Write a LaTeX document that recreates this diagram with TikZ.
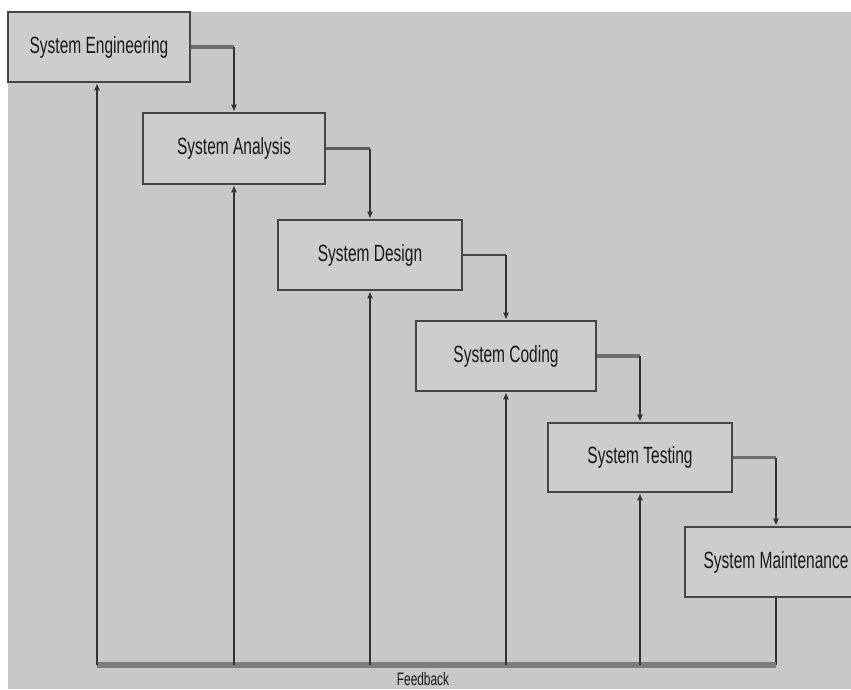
\documentclass[tikz,border=0pt]{standalone}
\usepackage{fontspec}
\setmainfont{Liberation Sans}[FakeStretch=0.66]
\usetikzlibrary{arrows.meta}
\definecolor{bggray}{HTML}{C8C8C8}
\definecolor{boxfill}{HTML}{CDCDCD}
\definecolor{boxline}{HTML}{454545}
\definecolor{hgray}{HTML}{6E6E6E}
\definecolor{vdark}{HTML}{333333}
\definecolor{fbgray}{HTML}{7D7D7D}
\tikzset{
  stagebox/.style={draw=boxline, fill=boxfill, line width=2.6pt, inner sep=0pt,
    font=\fontsize{23.5}{26}\selectfont, text=black!90},
  hconn/.style={draw=hgray, line width=3.2pt},
  vconn/.style={draw=vdark, line width=1.6pt, -{Latex[length=7pt,width=6pt]}},
  fbup/.style={draw=vdark, line width=1.5pt, -{Latex[length=7pt,width=6pt]}},
  fbline/.style={draw=fbgray, line width=6pt},
  fbdown/.style={draw=vdark, line width=1.6pt},
  fblabel/.style={font=\fontsize{18}{20}\selectfont, text=black!90, inner sep=0pt}
}
\begin{document}
\begin{tikzpicture}[x=1pt,y=-1pt]
\useasboundingbox (0,0) rectangle (851,689);
\clip (0,0) rectangle (851,689);
\fill[white] (0,0) rectangle (851,689);
\fill[bggray] (8,12) rectangle (851,689);

\node[stagebox, minimum width=182pt, minimum height=70pt] (SE) at (99,47) {System Engineering};
\node[stagebox, minimum width=182pt, minimum height=71pt] (SA) at (234,148.5) {System Analysis};
\node[stagebox, minimum width=184pt, minimum height=70pt] (SD) at (370,255) {System Design};
\node[stagebox, minimum width=180pt, minimum height=70pt] (SC) at (506,356) {System Coding};
\node[stagebox, minimum width=184pt, minimum height=69pt] (ST) at (640,457.5) {System Testing};
\node[stagebox, minimum width=182pt, minimum height=70pt] (SM) at (776,562) {System Maintenance};

% forward connectors
\coordinate (c1) at (SE.east -| SA.north);
\coordinate (c2) at (SA.east -| SD.north);
\coordinate (c3) at (SD.east -| SC.north);
\coordinate (c4) at (SC.east -| ST.north);
\coordinate (c5) at (ST.east -| SM.north);
\draw[hconn] (SE.east) -- (c1);
\draw[vconn] (c1) -- (SA.north);
\draw[hconn, line width=2.2pt, draw=vdark!80] (SA.east) -- (c2);
\draw[vconn] (c2) -- (SD.north);
\draw[hconn, line width=2.8pt, draw=vdark!90] (SD.east) -- (c3);
\draw[vconn] (c3) -- (SC.north);
\draw[hconn] (SC.east) -- (c4);
\draw[vconn] (c4) -- (ST.north);
\draw[hconn, line width=2.4pt] (ST.east) -- (c5);
\draw[vconn] (c5) -- (SM.north);

% feedback
\coordinate (fbR) at (776,665);
\coordinate (fbL) at (97,665);
\draw[fbdown] (SM.south) -- (fbR);
\draw[fbline] (fbL) -- (fbR);
\draw[fbup] (fbL) -- (fbL |- SE.south);
\draw[fbup] (SA.south |- fbL) -- (SA.south);
\draw[fbup] (SD.south |- fbL) -- (SD.south);
\draw[fbup] (SC.south |- fbL) -- (SC.south);
\draw[fbup] (ST.south |- fbL) -- (ST.south);
\node[fblabel] (fb) at (423,679) {Feedback};
\end{tikzpicture}
\end{document}
